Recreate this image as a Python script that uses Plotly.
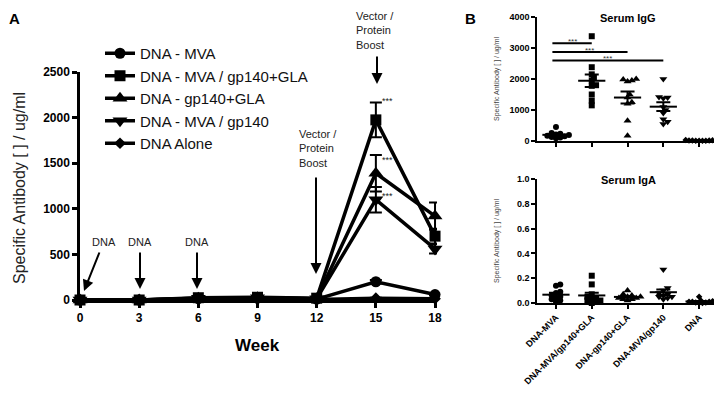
import numpy as np
import plotly.graph_objects as go

# page body has an 8px margin, so the figure is drawn at (8, 8) in the window
OFF = 8
W, H = 722 - OFF, 400 - OFF
FONT = "Liberation Sans, Arial, sans-serif"

def px(x):
    return (x - OFF) / W

def py(y):
    return 1 - (y - OFF) / H

# ---------------- Panel A data ----------------
weeks = [0, 3, 6, 9, 12, 15, 18]
series_names = ["DNA - MVA", "DNA - MVA / gp140+GLA", "DNA - gp140+GLA",
                "DNA - MVA / gp140", "DNA Alone"]
dna_mva = [0, 0, 15, 20, 10, 200, 60]
dna_mva_gp140gla = [0, 0, 25, 30, 20, 1975, 700]
dna_gp140gla = [0, 0, 20, 25, 15, 1390, 920]
dna_mva_gp140 = [0, 0, 20, 25, 15, 1100, 560]
dna_alone = [0, 0, 10, 15, 5, 20, 15]

sem_dna_mva = [0, 0, 5, 5, 5, 20, 10]
sem_dna_mva_gp140gla = [0, 0, 5, 5, 5, 190, 80]
sem_dna_gp140gla = [0, 0, 5, 5, 5, 200, 150]
sem_dna_mva_gp140 = [0, 0, 5, 5, 5, 140, 50]
sem_dna_alone = [0, 0, 3, 3, 3, 5, 5]

# ---------------- Panel B data ----------------
groups = ["DNA-MVA", "DNA-MVA/gp140+GLA", "DNA-gp140+GLA", "DNA-MVA/gp140", "DNA"]
igg_dna_mva = [450, 260, 230, 210, 190, 170, 150, 130, 110, 90]
igg_dna_mva_gp140gla = [3380, 2380, 2150, 2050, 1950, 1800, 1780, 1500, 1300, 1150]
igg_dna_gp140gla = [2000, 1980, 1950, 1920, 1500, 1400, 1250, 1200, 650, 170]
igg_dna_mva_gp140 = [2000, 1420, 1400, 1380, 1100, 1000, 900, 700, 620, 550]
igg_dna = [40, 30, 25, 20, 18, 15, 12, 10, 8, 5]

iga_dna_mva = [0.15, 0.14, 0.09, 0.08, 0.06, 0.05, 0.04, 0.03, 0.02, 0.01]
iga_dna_mva_gp140gla = [0.22, 0.15, 0.07, 0.05, 0.04, 0.03, 0.02, 0.02, 0.01, 0.0]
iga_dna_gp140gla = [0.10, 0.07, 0.06, 0.05, 0.05, 0.04, 0.04, 0.03, 0.03, 0.02]
iga_dna_mva_gp140 = [0.27, 0.12, 0.10, 0.08, 0.07, 0.06, 0.05, 0.05, 0.04, 0.03]
iga_dna = [0.05, 0.02, 0.015, 0.01, 0.01, 0.01, 0.005, 0.005, 0.0, 0.0]

sig_pairs = [(0, 1), (0, 2), (0, 3)]
sig_levels = [3150, 2870, 2600]

symbols = ["circle", "square", "triangle-up", "triangle-down", "diamond"]
sizesA = [11, 11, 13, 13, 9]
sizesB = [6, 6, 7, 7, 5]

fig = go.Figure()

# Panel A traces
seriesA = [dna_mva, dna_mva_gp140gla, dna_gp140gla, dna_mva_gp140, dna_alone]
semA = [sem_dna_mva, sem_dna_mva_gp140gla, sem_dna_gp140gla, sem_dna_mva_gp140, sem_dna_alone]
for name, vals, err, sym, sz in zip(series_names, seriesA, semA, symbols, sizesA):
    fig.add_trace(go.Scatter(
        x=weeks, y=vals, name=name, mode="lines+markers",
        line=dict(color="black", width=3.5),
        marker=dict(symbol=sym, size=sz, color="black"),
        error_y=dict(type="data", array=err, color="black", thickness=2, width=6),
        cliponaxis=False, xaxis="x", yaxis="y"))


def swarm(vals, yscale, xscale, d):
    vals = np.asarray(vals, dtype=float)
    order = np.argsort(vals)
    placed = []
    offs = np.zeros(len(vals))
    cands = [0.0]
    for k in range(1, 25):
        cands += [k * d * 0.6, -k * d * 0.6]
    for i in order:
        yp = vals[i] * yscale
        for c in cands:
            if all((c - ox) ** 2 + (yp - oy) ** 2 >= d * d for ox, oy in placed):
                offs[i] = c / xscale
                placed.append((c, yp))
                break
    return offs


def add_dotplot(data, xa, ya, yscale):
    xscale = 35.8
    for gi, (vals, sym, sz) in enumerate(zip(data, symbols, sizesB)):
        offs = swarm(vals, yscale, xscale, 3.6 if gi < 4 else 2.8)
        fig.add_trace(go.Scatter(
            x=[gi + o for o in offs], y=vals, mode="markers",
            marker=dict(symbol=sym, size=sz, color="black"),
            showlegend=False, cliponaxis=False, xaxis=xa, yaxis=ya))
        arr = np.asarray(vals, dtype=float)
        m = arr.mean()
        se = arr.std(ddof=1) / np.sqrt(len(arr))
        fig.add_trace(go.Scatter(
            x=[gi - 0.38, gi + 0.38], y=[m, m], mode="lines",
            line=dict(color="black", width=2),
            showlegend=False, cliponaxis=False, xaxis=xa, yaxis=ya))
        fig.add_trace(go.Scatter(
            x=[gi], y=[m], mode="markers", marker=dict(size=1, color="rgba(0,0,0,0)"),
            error_y=dict(type="data", array=[se], color="black", thickness=2, width=7),
            showlegend=False, cliponaxis=False, xaxis=xa, yaxis=ya))


add_dotplot([igg_dna_mva, igg_dna_mva_gp140gla, igg_dna_gp140gla, igg_dna_mva_gp140, igg_dna],
            "x2", "y2", 31 / 1000)
add_dotplot([iga_dna_mva, iga_dna_mva_gp140gla, iga_dna_gp140gla, iga_dna_mva_gp140, iga_dna],
            "x3", "y3", 124.0)

# significance lines
shapes = []
annotations = []
for (a, b), lvl in zip(sig_pairs, sig_levels):
    shapes.append(dict(type="line", xref="x2", yref="y2", x0=a - 0.1, x1=b, y0=lvl, y1=lvl,
                       line=dict(color="black", width=2)))
    annotations.append(dict(xref="x2", yref="y2", x=(a - 0.1 + b) / 2, y=lvl, text="***",
                            showarrow=False, yanchor="bottom", yshift=-5,
                            font=dict(size=8, color="#333")))

axis_font = dict(family=FONT, size=12, color="black", weight="bold")

def txt(x, y, s, size=11, xanchor="center", yanchor="middle", bold=False, color="#222",
        angle=0, align="center"):
    annotations.append(dict(xref="paper", yref="paper", x=px(x), y=py(y), text=s,
                            showarrow=False, xanchor=xanchor, yanchor=yanchor, align=align,
                            textangle=angle,
                            font=dict(family=FONT, size=size, color=color,
                                      weight="bold" if bold else "normal")))

def arrow(x0, y0, x1, y1):
    annotations.append(dict(xref="paper", yref="paper", x=px(x1), y=py(y1),
                            ax=x0 - x1, ay=y0 - y1, text="", showarrow=True,
                            arrowhead=2, arrowsize=1.1, arrowwidth=2, arrowcolor="black"))

# panel labels
txt(7, 8, "A", size=15, xanchor="left", yanchor="top", bold=True, color="black")
txt(463, 8, "B", size=15, xanchor="left", yanchor="top", bold=True, color="black")

# panel A titles
txt(20, 188, "Specific Antibody [ ] / ug/ml", size=16, angle=-90, color="#222")
txt(258, 345, "Week", size=17, bold=True, color="black")

# DNA arrows
txt(104, 242, "DNA", size=11)
arrow(100, 251, 84, 291)
txt(140, 242, "DNA", size=11)
arrow(140, 251, 140, 289)
txt(197, 242, "DNA", size=11)
arrow(197, 251, 197, 289)

# boost arrows
txt(297, 148, "Vector /<br>Protein<br>Boost", size=11, xanchor="left", align="left")
arrow(316, 176, 316, 274)
txt(354, 30, "Vector /<br>Protein<br>Boost", size=11, xanchor="left", align="left")
arrow(377, 55, 377, 84)

# stars
txt(380, 101, "***", size=9, xanchor="left")
txt(380, 160, "***", size=9, xanchor="left")
txt(380, 196, "***", size=9, xanchor="left")

# panel B titles
txt(628, 18, "Serum IgG", size=11, bold=True, color="black")
txt(628, 180, "Serum IgA", size=11, bold=True, color="black")
txt(497, 79, "Specific Antibody [ ] / ug/ml", size=7, angle=-90, color="#444")
txt(497, 241, "Specific Antibody [ ] / ug/ml", size=7, angle=-90, color="#444")

small_font = dict(family=FONT, size=9, color="black", weight="bold")

common = dict(showline=True, linecolor="black", ticks="outside", tickcolor="black",
              showgrid=False, zeroline=False, automargin=False)

fig.update_layout(
    width=W, height=H, margin=dict(l=0, r=0, t=0, b=0, autoexpand=False),
    paper_bgcolor="white", plot_bgcolor="white",
    font=dict(family=FONT, color="black"),
    showlegend=True,
    legend=dict(x=px(100), y=py(37), xanchor="left", yanchor="top",
                font=dict(family=FONT, size=15, color="#111"),
                bgcolor="rgba(0,0,0,0)", itemwidth=30, tracegroupgap=0),
    xaxis=dict(domain=[px(80), px(437)], range=[0, 18.1], tickvals=weeks,
               linewidth=2.5, ticklen=5, tickwidth=2.5,
               tickfont=axis_font, anchor="y", **common),
    yaxis=dict(domain=[py(300), py(72)], range=[0, 2500], tickvals=[0, 500, 1000, 1500, 2000, 2500],
               linewidth=2.5, ticklen=5, tickwidth=2.5,
               tickfont=axis_font, anchor="x", **common),
    xaxis2=dict(domain=[px(537), px(717)], range=[-0.53, 4.5], tickvals=[0, 1, 2, 3, 4],
                showticklabels=False, linewidth=1.5, ticklen=4, tickwidth=1.5,
                anchor="y2", **common),
    yaxis2=dict(domain=[py(141), py(17)], range=[0, 4000], tickvals=[0, 1000, 2000, 3000, 4000],
                linewidth=1.5, ticklen=4, tickwidth=1.5,
                tickfont=small_font, anchor="x2", **common),
    xaxis3=dict(domain=[px(537), px(717)], range=[-0.53, 4.5], tickvals=[0, 1, 2, 3, 4],
                ticktext=groups, tickangle=-45, linewidth=1.5, ticklen=4, tickwidth=1.5,
                tickfont=small_font, anchor="y3", **common),
    yaxis3=dict(domain=[py(303), py(179)], range=[0, 1.0], tickvals=[0, 0.2, 0.4, 0.6, 0.8, 1.0],
                tickformat=".1f", linewidth=1.5, ticklen=4, tickwidth=1.5,
                tickfont=small_font, anchor="x3", **common),
    shapes=shapes, annotations=annotations,
)

fig.write_html("out.html")
